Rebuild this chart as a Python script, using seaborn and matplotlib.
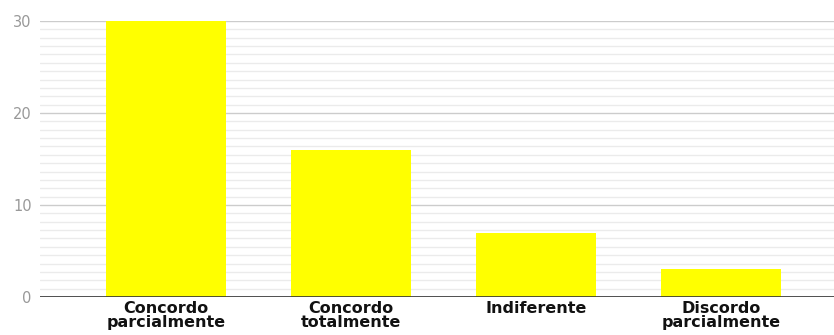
import matplotlib
matplotlib.use("Agg")
import matplotlib.pyplot as plt
import seaborn as sns
import pandas as pd
import numpy as np

categories = ["Concordo\nparcialmente", "Concordo\ntotalmente", "Indiferente", "Discordo\nparcialmente"]
values = [30, 16, 7, 3]

df = pd.DataFrame({"cat": categories, "val": values})

sns.set_theme(style="white")
plt.rcParams['font.family'] = ['DejaVu Sans']

fig = plt.figure(figsize=(8.34, 3.35), dpi=100)
ax = fig.add_axes([40/834, 1-297/335, 1-40/834, (297-21)/335])

sns.barplot(data=df, x="cat", y="val", color="#ffff00", saturation=1, width=0.649, ax=ax, zorder=3)
for p in ax.patches:
    p.set_edgecolor("none")

ax.set_xlim(-126/185, 668/185)
ax.set_ylim(0, 30)
ax.set_yticks([0, 10, 20, 30])
ax.set_yticks(np.arange(0, 30.001, 10/11), minor=True)
ax.grid(True, which="major", axis="y", color="#cccccc", linewidth=1, zorder=0)
ax.grid(True, which="minor", axis="y", color="#ebebeb", linewidth=1, zorder=0)
ax.axhline(0, color="#333333", linewidth=1.2, zorder=4)
for s in ax.spines.values():
    s.set_visible(False)
ax.set_xlabel("")
ax.set_ylabel("")
ax.tick_params(axis="y", which="both", length=0, labelsize=10.5, labelcolor="#999999", pad=6)
ax.tick_params(axis="x", length=0, pad=3)
for lbl in ax.get_xticklabels():
    lbl.set_fontweight("bold")
    lbl.set_fontsize(11.5)
    lbl.set_color("#111111")
    lbl.set_linespacing(0.88)

fig.savefig("out.png", dpi=100)
